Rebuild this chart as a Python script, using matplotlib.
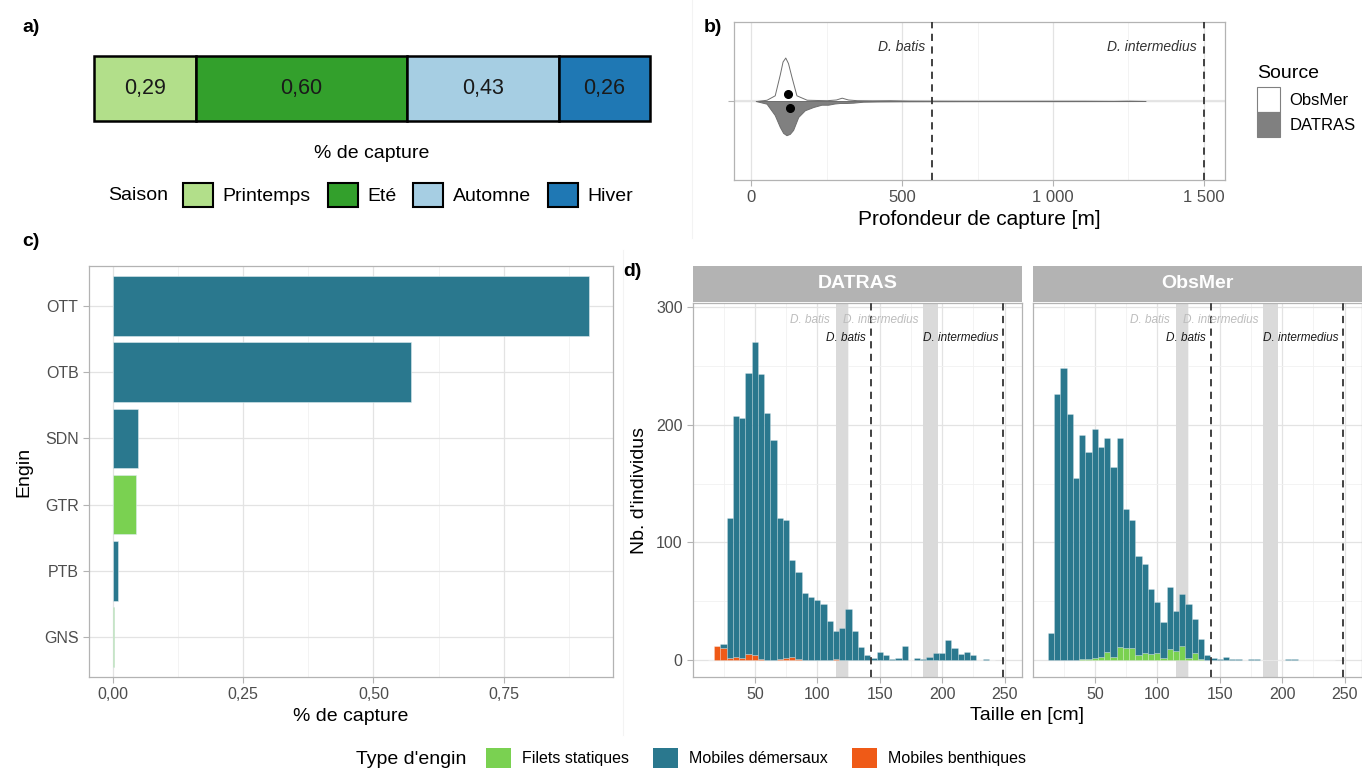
import numpy as np
import matplotlib
matplotlib.use("Agg")
import matplotlib.pyplot as plt
from matplotlib.patches import Patch
from matplotlib.lines import Line2D

plt.rcParams['font.family'] = ['Liberation Sans', 'DejaVu Sans']

W, H = 1362, 769

# ---- a) saison
saisons = ['Printemps', 'Eté', 'Automne', 'Hiver']
saison_vals = [0.29, 0.60, 0.43, 0.26]
saison_cols = ['#B2DF8A', '#33A02C', '#A6CEE3', '#1F78B4']

# ---- b) profondeur (densites relatives lues sur la figure)
depth_obsmer = [17, 50, 77, 94, 103, 112, 121, 133, 149, 183, 216, 249, 280, 299, 320, 350,
                400, 460, 520, 600, 700, 800, 900, 1000, 1100, 1200, 1250, 1306]
dens_obsmer = [0, .016, .072, .34, .50, .55, .48, .30, .072, .016, .013, .010, .019, .042, .019, .010,
               .008, .010, .005, .004, .003, .003, .003, .003, .003, .001, .004, 0]
depth_datras = [14, 50, 77, 94, 105, 116, 127, 138, 155, 177, 205, 232, 254, 275, 293, 315,
                337, 370, 420, 492, 600, 800, 1000, 1200, 1306]
dens_datras = [0, .034, .177, .328, .404, .433, .416, .366, .202, .117, .076, .047, .047, .032, .025, .025,
               .021, .009, .006, .004, .003, .002, .002, .001, 0]
median_depth = {'ObsMer': 121, 'DATRAS': 127}
ref_depth = {'D. batis': 600, 'D. intermedius': 1500}

# ---- c) engins
engins = ['OTT', 'OTB', 'SDN', 'GTR', 'PTB', 'GNS']
engin_vals = [0.914, 0.572, 0.049, 0.045, 0.0094, 0.003]
engin_type = ['Mobiles démersaux', 'Mobiles démersaux', 'Mobiles démersaux',
              'Filets statiques', 'Mobiles démersaux', 'Filets statiques']

# ---- d) tailles (classes de 5 cm a partir de 12,5 cm)
size_start, size_width = 12.5, 5
datras_demersaux = [0, 0, 4, 119, 204, 204, 239, 266, 242, 210, 187, 120, 117, 82, 74, 57,
                    54, 51, 48, 33, 24, 27, 43, 25, 11, 4, 2, 7, 4, 1, 2, 12,
                    0, 2, 1, 3, 6, 6, 17, 10, 5, 7, 4, 0, 1, 0]
datras_benthiques = [0, 12, 10, 2, 3, 2, 5, 4, 1, 0, 0, 1, 2, 3, 1, 0,
                     0, 0, 0, 0, 1, 0, 0, 0, 0, 0, 0, 0, 0, 0, 0, 0,
                     0, 0, 0, 0, 0, 0, 0, 0, 0, 0, 0, 0, 0, 0]
obsmer_demersaux = [23, 226, 248, 209, 155, 190, 176, 194, 178, 182, 161, 178, 118, 109, 84, 76,
                    55, 43, 30, 53, 34, 44, 46, 29, 17, 4, 2, 1, 3, 1, 1, 0,
                    1, 1, 0, 0, 0, 0, 1, 1, 0, 0, 0, 0, 0, 0]
obsmer_statiques = [0, 0, 0, 0, 0, 1, 1, 2, 3, 7, 3, 11, 10, 10, 4, 6,
                    5, 6, 2, 9, 8, 12, 2, 6, 1, 0, 0, 0, 0, 0, 0, 0,
                    0, 0, 0, 0, 0, 0, 0, 0, 0, 0, 0, 0, 0, 0]
size_bands = {'D. batis': (115, 125), 'D. intermedius': (185, 197)}
size_ref = {'D. batis': 143, 'D. intermedius': 249}

engin_cols = {'Filets statiques': '#7AD151', 'Mobiles démersaux': '#2A788E',
              'Mobiles benthiques': '#EF5A17'}

TICK_COL = '#4D4D4D'
BORDER = '#B3B3B3'

fig = plt.figure(figsize=(W / 100, H / 100), dpi=100)


def px_axes(x0, y0, x1, y1):
    return fig.add_axes([x0 / W, 1 - y1 / H, (x1 - x0) / W, (y1 - y0) / H])


def fig_text(x, y, s, **kw):
    fig.text(x / W, 1 - y / H, s, **kw)


def light(ax, size=11):
    ax.set_facecolor('white')
    for s in ax.spines.values():
        s.set_color(BORDER)
        s.set_linewidth(0.9)
    ax.tick_params(which='major', colors=BORDER, labelcolor=TICK_COL, length=4, width=0.8, labelsize=size)
    ax.tick_params(which='minor', length=0)
    ax.grid(True, which='major', color='#E3E3E3', lw=0.9)
    ax.grid(True, which='minor', color='#F1F1F1', lw=0.6)
    ax.set_axisbelow(True)


def fr(v, nd):
    return f"{v:.{nd}f}".replace('.', ',')


# faint separators between sub-figures
fig.add_artist(Line2D([692 / W, 692 / W], [1 - 0 / H, 1 - 238 / H], color='#F3F3F3', lw=0.8))
fig.add_artist(Line2D([623 / W, 623 / W], [1 - 250 / H, 1 - 735 / H], color='#F3F3F3', lw=0.8))

# ================= a)
ax_a = px_axes(94, 56, 650, 121)
lefts = np.cumsum([0] + saison_vals[:-1])
ax_a.barh(0, saison_vals, left=lefts, height=1, color=saison_cols, edgecolor='black', lw=1.8, clip_on=False)
for l, v in zip(lefts, saison_vals):
    ax_a.text(l + v / 2, 0, fr(v, 2), ha='center', va='center', fontsize=15.5, color='#1A1A1A')
ax_a.set_xlim(0, sum(saison_vals))
ax_a.set_ylim(-0.5, 0.5)
ax_a.axis('off')
fig_text(372, 153, '% de capture', ha='center', va='center', fontsize=14)
fig_text(108, 195, 'Saison', ha='left', va='center', fontsize=14)
fig.legend([Patch(facecolor=c, edgecolor='black', lw=1.5) for c in saison_cols], saisons,
           loc='center left', bbox_to_anchor=(183 / W, 1 - 195 / H), ncol=4, frameon=False,
           fontsize=14, handlelength=1.55, handleheight=1.45, handletextpad=0.5,
           columnspacing=0.85, borderpad=0, borderaxespad=0)

# ================= b)
ax_b = px_axes(734, 22, 1225, 180)
light(ax_b, 12)
ax_b.axhline(0, color='#E6E6E6', lw=1.6, zorder=0)
ax_b.fill_between(depth_obsmer, 0, dens_obsmer, facecolor='white', edgecolor='#6E6E6E', lw=0.7, zorder=3)
ax_b.fill_between(depth_datras, 0, -np.array(dens_datras), facecolor='#808080', edgecolor='#6E6E6E',
                  lw=0.7, zorder=3)
ax_b.plot([median_depth['ObsMer']], [0.085], 'o', color='black', ms=5.5, zorder=4)
ax_b.plot([median_depth['DATRAS']], [-0.085], 'o', color='black', ms=5.5, zorder=4)
for name, d in ref_depth.items():
    ax_b.axvline(d, color='#333333', lw=1.3, ls=(0, (4, 3)), zorder=5)
    ax_b.text(d - 25, 0.68, name, ha='right', va='center', fontsize=10, style='italic', color='#333333')
ax_b.set_xlim(-58, 1570)
ax_b.set_ylim(-1, 1)
bticks = [0, 500, 1000, 1500]
ax_b.set_xticks(bticks)
ax_b.set_xticklabels([f"{v:,.0f}".replace(',', ' ') for v in bticks])
ax_b.set_xticks([250, 750, 1250], minor=True)
ax_b.set_yticks([0])
ax_b.set_yticklabels([''])
ax_b.set_xlabel('Profondeur de capture [m]', fontsize=15, labelpad=3)
fig_text(1257, 73, 'Source', ha='left', va='center', fontsize=14)
ax_b.legend([Patch(facecolor='white', edgecolor='#808080', lw=0.8),
             Patch(facecolor='#808080', edgecolor='#808080', lw=0.8)], ['ObsMer', 'DATRAS'],
            loc='upper left', bbox_to_anchor=(1257 / W, 1 - 87 / H),
            bbox_transform=fig.transFigure, frameon=False, fontsize=12,
            handlelength=1.35, handleheight=1.95, handletextpad=0.6,
            labelspacing=0.0, borderpad=0, borderaxespad=0)

# ================= c)
ax_c = px_axes(89, 266, 613, 677)
light(ax_c, 11.5)
ypos = np.arange(len(engins))[::-1] + 1
ax_c.barh(ypos, engin_vals, height=0.9, color=[engin_cols[t] for t in engin_type],
          edgecolor='#DCEBEF', lw=0.4, zorder=3)
ax_c.set_yticks(ypos)
ax_c.set_yticklabels(engins)
cticks = [0, 0.25, 0.5, 0.75]
ax_c.set_xticks(cticks)
ax_c.set_xticklabels([fr(v, 2) for v in cticks])
ax_c.set_xticks([0.125, 0.375, 0.625, 0.875], minor=True)
ax_c.set_xlim(-0.0457, max(engin_vals) * 1.05)
ax_c.set_ylim(0.4, len(engins) + 0.6)
ax_c.set_xlabel('% de capture', fontsize=14, labelpad=4)
ax_c.set_ylabel('Engin', fontsize=14, labelpad=8)

# ================= d)
edges = size_start + size_width * np.arange(len(datras_demersaux))
panels = [('DATRAS', 693, 1022, datras_benthiques, 'Mobiles benthiques', datras_demersaux),
          ('ObsMer', 1033, 1362, obsmer_statiques, 'Filets statiques', obsmer_demersaux)]
for i, (name, x0, x1, low, low_type, dem) in enumerate(panels):
    ax = px_axes(x0, 303, x1, 677)
    light(ax, 11.5)
    for lo, hi in size_bands.values():
        ax.axvspan(lo, hi, color='#DADADA', lw=0, zorder=1)
    ax.bar(edges, low, width=size_width, align='edge', color=engin_cols[low_type],
           edgecolor=(1, 1, 1, 0.3), lw=0.5, zorder=2)
    ax.bar(edges, dem, width=size_width, bottom=low, align='edge', color=engin_cols['Mobiles démersaux'],
           edgecolor=(1, 1, 1, 0.3), lw=0.5, zorder=2)
    for sp, x in size_ref.items():
        ax.axvline(x, color='#333333', lw=1.3, ls=(0, (4, 3)), zorder=4)
        ax.text(x - 4, 274, sp, ha='right', va='center', fontsize=8.5, style='italic', color='#1A1A1A', zorder=5)
    ax.text(110, 289, 'D. batis', ha='right', va='center', fontsize=8.5, style='italic', color='#BDBDBD', zorder=5)
    ax.text(120.5, 289, 'D. intermedius', ha='left', va='center', fontsize=8.5, style='italic',
            color='#BDBDBD', zorder=5)
    ax.set_xlim(0.5, 264)
    ax.set_ylim(-14.4, 303.4)
    ax.set_xticks([50, 100, 150, 200, 250])
    ax.set_xticks([25, 75, 125, 175, 225], minor=True)
    ax.set_yticks([0, 100, 200, 300])
    ax.set_yticks([50, 150, 250], minor=True)
    if i == 0:
        ax.set_ylabel("Nb. d'individus", fontsize=14, labelpad=6)
    else:
        ax.tick_params(axis='y', which='both', left=False, labelleft=False)
    # strip
    sx = px_axes(x0, 266, x1, 302)
    sx.set_facecolor('#B3B3B3')
    sx.set_xticks([])
    sx.set_yticks([])
    for s in sx.spines.values():
        s.set_visible(False)
    sx.text(0.5, 0.5, name, ha='center', va='center', fontsize=14, fontweight='bold', color='white',
            transform=sx.transAxes)

fig_text(1027, 715, 'Taille en [cm]', ha='center', va='center', fontsize=14)

# panel tags
for tag, x, y in [('a)', 22, 28), ('b)', 704, 28), ('c)', 22, 241), ('d)', 623, 271)]:
    fig_text(x, y, tag, ha='left', va='center', fontsize=14, fontweight='bold')

# bottom legend
type_names = ['Filets statiques', 'Mobiles démersaux', 'Mobiles benthiques']
fig_text(356, 759, "Type d'engin", ha='left', va='center', fontsize=14)
fig.legend([Patch(facecolor=engin_cols[t]) for t in type_names], type_names,
           loc='center left', bbox_to_anchor=(486 / W, 1 - 758 / H), ncol=3, frameon=False,
           fontsize=11.5, handlelength=1.56, handleheight=1.5, handletextpad=0.7,
           columnspacing=1.5, borderpad=0, borderaxespad=0)

fig.savefig('out.png', dpi=100)
